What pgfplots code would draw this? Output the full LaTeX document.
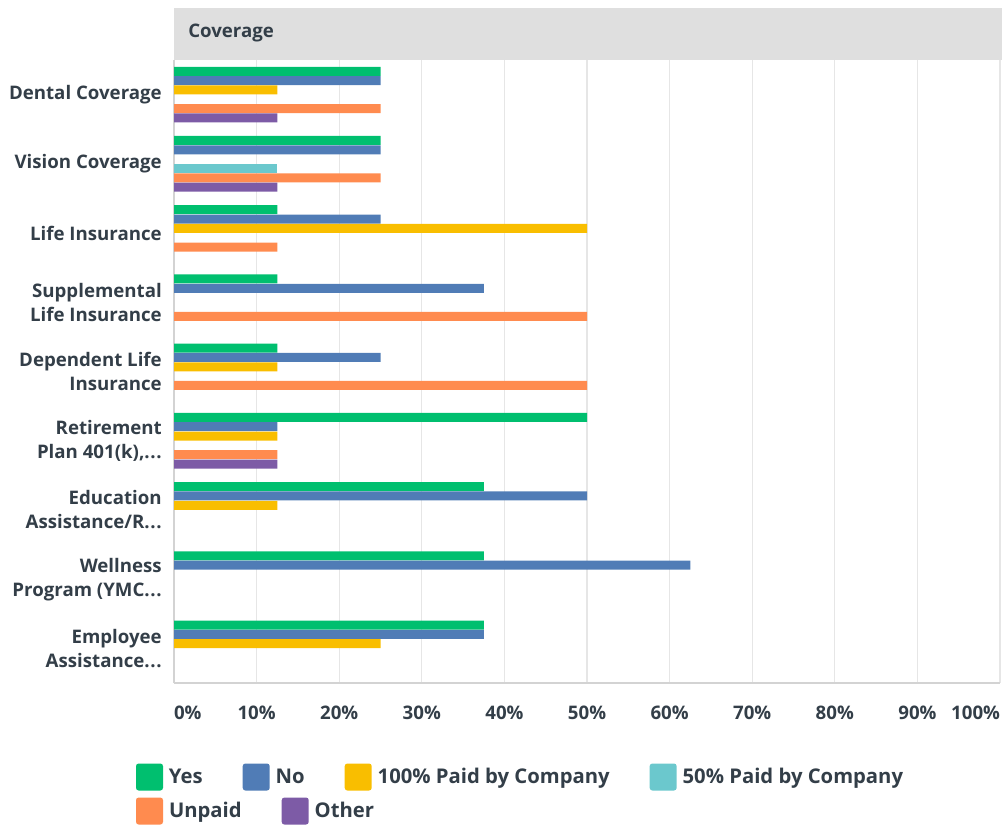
\documentclass[border=0pt]{standalone}
\usepackage{pgfplots}
\pgfplotsset{compat=1.18}
\usepackage{fontspec}
\setmainfont{Open Sans}
\definecolor{cYes}{HTML}{00BF6F}
\definecolor{cNo}{HTML}{507CB6}
\definecolor{cFull}{HTML}{F9BE00}
\definecolor{cHalf}{HTML}{6BC8CD}
\definecolor{cUnpaid}{HTML}{FF8B4F}
\definecolor{cOther}{HTML}{7D5BA6}
\definecolor{cText}{HTML}{333E48}
\definecolor{cHead}{HTML}{DFDFDF}
\definecolor{cGrid}{HTML}{E6E6E6}
\definecolor{cAxis}{HTML}{D3D3D3}
\newcommand{\chfont}{\fontsize{14}{18}\selectfont\bfseries}
\newcommand{\lgfont}{\fontsize{15.2}{18}\selectfont\bfseries}
\newcommand{\dd}{.\kern0.5pt.\kern0.5pt.}
\pgfplotsset{
  myleg/.style={
    legend style={draw=none, fill=none, inner sep=0pt, outer sep=0pt,
      font=\lgfont, text=cText, nodes={inner sep=0pt},
      /tikz/every odd column/.append style={column sep=4.5pt},
      /tikz/every even column/.append style={column sep=30pt}},
    legend cell align=left,
    legend image code/.code={\fill[##1, draw=none, rounded corners=2pt] (0pt,-10.125pt) rectangle (20.25pt,10.125pt);}
  }
}
\begin{document}
\begin{tikzpicture}
\useasboundingbox (0pt,0pt) rectangle (751.5pt,621pt);
\fill[cHead] (130.5pt,576pt) rectangle (751.5pt,615pt);
\node[anchor=base west, text=cText, font=\chfont, inner sep=0pt] at (141pt,592.5pt) {Coverage};
\begin{axis}[
  at={(130.5pt,108.75pt)}, anchor=south west,
  scale only axis, width=619.5pt, height=467.25pt,
  xmin=0, xmax=100, ymin=-0.5, ymax=8.5,
  axis x line*=bottom, axis y line*=left,
  axis line style={-, draw=cAxis, line width=1.5pt},
  xmajorgrids, major grid style={draw=cGrid, line width=1pt},
  major tick length=0pt, tick style={draw=none},
  xtick={0,10,20,30,40,50,60,70,80,90,100},
  xticklabels={\makebox[0pt][l]{0\%},10\%,20\%,30\%,40\%,50\%,60\%,70\%,80\%,90\%,\makebox[0pt][r]{100\%}},
  xticklabel style={anchor=base, yshift=-27pt, font=\chfont, text=cText},
  ytick={0,1,2,3,4,5,6,7,8},
  yticklabels={{Employee\\Assistance\dd},{Wellness\\Program (YMC\dd},{Education\\Assistance/R\dd},{Retirement\\Plan 401(k),\dd},{Dependent Life\\Insurance},{Supplemental\\Life Insurance},{Life Insurance},{Vision Coverage},{Dental Coverage}},
  yticklabel style={anchor=east, align=right, inner sep=0pt, xshift=-9pt, font=\chfont, text=cText},
  bar width=6.75pt,
  myleg,
  legend columns=4,
  legend style={at={(-0.046,-0.1509)}, anchor=west},
]
\addplot[xbar, forget plot, fill=cYes, draw=none, bar shift=17.5pt] coordinates {(25,8) (25,7) (12.5,6) (12.5,5) (12.5,4) (50,3) (37.5,2) (37.5,1) (37.5,0)};
\addplot[xbar, forget plot, fill=cNo, draw=none, bar shift=10.5pt] coordinates {(25,8) (25,7) (25,6) (37.5,5) (25,4) (12.5,3) (50,2) (62.5,1) (37.5,0)};
\addplot[xbar, forget plot, fill=cFull, draw=none, bar shift=3.5pt] coordinates {(12.5,8) (50,6) (12.5,4) (12.5,3) (12.5,2) (25,0)};
\addplot[xbar, forget plot, fill=cHalf, draw=none, bar shift=-3.5pt] coordinates {(12.5,7)};
\addplot[xbar, forget plot, fill=cUnpaid, draw=none, bar shift=-10.5pt] coordinates {(25,8) (25,7) (12.5,6) (50,5) (50,4) (12.5,3)};
\addplot[xbar, forget plot, fill=cOther, draw=none, bar shift=-17.5pt] coordinates {(12.5,8) (12.5,7) (12.5,3)};
\addlegendimage{fill=cYes}\addlegendentry{Yes}
\addlegendimage{fill=cNo}\addlegendentry{No}
\addlegendimage{fill=cFull}\addlegendentry{100\% Paid by Company}
\addlegendimage{fill=cHalf}\addlegendentry{50\% Paid by Company}
\end{axis}
\begin{axis}[
  at={(130.5pt,108.75pt)}, anchor=south west,
  scale only axis, width=619.5pt, height=467.25pt,
  xmin=0, xmax=1, ymin=0, ymax=1, hide axis,
  myleg,
  legend columns=2,
  legend style={at={(-0.046,-0.2055)}, anchor=west},
]
\addlegendimage{fill=cUnpaid}\addlegendentry{Unpaid}
\addlegendimage{fill=cOther}\addlegendentry{Other}
\end{axis}
\end{tikzpicture}
\end{document}
